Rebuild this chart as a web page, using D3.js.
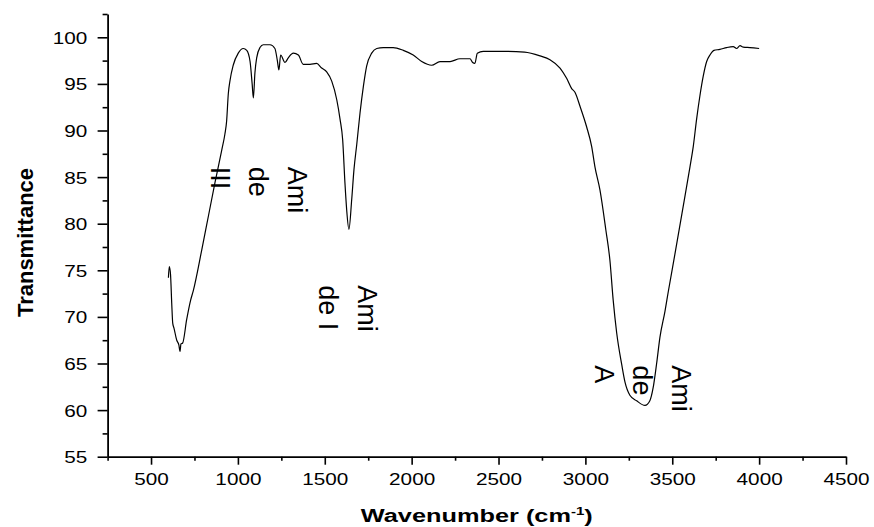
<!DOCTYPE html>
<html>
<head>
<meta charset="utf-8">
<script src="https://cdn.jsdelivr.net/npm/d3@7"></script>
<style>
  body { margin: 0; background: #fff; }
  text { font-family: "Liberation Sans", Arial, sans-serif; fill: #000; }
</style>
</head>
<body>
<svg id="chart" width="874" height="527"></svg>
<script>
// wavenumber (cm-1)
var wavenumber = [600, 605, 612, 619, 625, 632, 648, 660, 667, 672, 682, 705, 728, 743, 792, 830, 868, 907, 925, 935,
    945, 954, 973, 1002, 1031, 1051, 1070, 1082, 1089, 1098, 1108, 1127, 1146, 1185, 1213, 1227, 1236, 1246, 1271, 1290,
    1319, 1348, 1376, 1415, 1453, 1482, 1511, 1540, 1569, 1588, 1603, 1616, 1626, 1639, 1655, 1668, 1684, 1703, 1722, 1741,
    1770, 1799, 1837, 1894, 1952, 2009, 2058, 2115, 2163, 2221, 2278, 2336, 2351, 2364, 2378, 2412, 2508, 2650, 2739, 2796,
    2854, 2892, 2921, 2940, 2969, 3007, 3036, 3055, 3084, 3118, 3141, 3160, 3180, 3209, 3228, 3256, 3295, 3343, 3371, 3390,
    3410, 3429, 3458, 3477, 3515, 3556, 3602, 3621, 3640, 3659, 3678, 3698, 3717, 3740, 3774, 3813, 3851, 3870, 3890, 3909,
    3947, 4000];
// transmittance at each wavenumber
var transmittance = [74.2, 75.4, 74.6, 71.5, 69.3, 68.8, 67.5, 67.0, 66.3, 67.1, 67.2, 69.7, 71.8, 72.8, 77.2, 80.8, 84.4, 87.9, 89.6, 91.0,
    94.0, 95.3, 97.0, 98.3, 98.8, 98.6, 97.4, 95.0, 93.5, 96.2, 97.8, 98.9, 99.2, 99.2, 98.8, 97.5, 96.5, 98.1, 97.3, 97.8,
    98.3, 98.1, 97.1, 97.1, 97.2, 96.7, 96.3, 95.3, 93.3, 91.2, 89.0, 84.4, 81.5, 79.4, 82.6, 85.8, 88.5, 91.9, 94.7, 96.9,
    98.3, 98.8, 98.9, 98.9, 98.6, 98.1, 97.4, 97.0, 97.4, 97.4, 97.7, 97.7, 97.3, 97.2, 98.3, 98.5, 98.5, 98.4, 98.0, 97.6,
    96.7, 95.6, 94.5, 94.1, 92.6, 90.4, 88.3, 86.1, 83.6, 79.3, 76.1, 71.8, 68.3, 64.9, 63.0, 61.6, 61.0, 60.5, 61.0, 62.4,
    65.0, 67.8, 70.6, 72.7, 76.7, 81.1, 86.1, 88.3, 91.2, 93.7, 95.8, 97.4, 98.1, 98.6, 98.7, 98.9, 99.0, 98.8, 99.1, 98.95,
    98.9, 98.8];

var xTicks = [500, 1000, 1500, 2000, 2500, 3000, 3500, 4000, 4500];
var yTicks = [55, 60, 65, 70, 75, 80, 85, 90, 95, 100];

// peak labels: text lines, first line placed at [wavenumber, transmittance]
var peakLines = [["Ami", "de", "III"], ["Ami", "de I"], ["Ami", "de", "A"]];
var peakWn = [1288, 1691, 3498];
var peakT = [86.1, 73.4, 64.8];

var svg = d3.select("#chart");
var plotLeft = 107.6, plotRight = 846, plotTop = 14, plotBottom = 456.7;
var sx = 1.22; // tick text is drawn a little wide in the original

var x = d3.scaleLinear().domain([250, 4500]).range([plotLeft, plotRight]);
var y = d3.scaleLinear().domain([55, 102.5]).range([plotBottom, plotTop]);

// x axis
var xAxis = svg.append("g")
    .attr("transform", "translate(0," + plotBottom + ")")
    .call(d3.axisBottom(x).tickValues(xTicks).tickSize(8).tickSizeOuter(0).tickFormat(d3.format("d")));
svg.append("g")
    .attr("transform", "translate(0," + plotBottom + ")")
    .call(d3.axisBottom(x).tickValues(d3.range(250, 4500, 500)).tickSize(4).tickSizeOuter(0).tickFormat(""))
    .select(".domain").remove();
xAxis.selectAll("text")
    .attr("y", 28.3)
    .attr("dy", null)
    .style("font-size", "17px")
    .attr("transform", "scale(" + sx + ",1)");

// y axis
var yAxis = svg.append("g")
    .attr("transform", "translate(" + plotLeft + ",0)")
    .call(d3.axisLeft(y).tickValues(yTicks).tickSize(10).tickSizeOuter(0));
svg.append("g")
    .attr("transform", "translate(" + plotLeft + ",0)")
    .call(d3.axisLeft(y).tickValues(d3.range(57.5, 103, 5)).tickSize(5).tickSizeOuter(0).tickFormat(""))
    .select(".domain").remove();
yAxis.selectAll("text")
    .attr("x", -20.3 / sx)
    .attr("dy", "6px")
    .style("font-size", "17px")
    .attr("transform", "scale(" + sx + ",1)");

svg.selectAll(".domain").attr("stroke-width", 1.8);
svg.selectAll(".tick line").attr("stroke-width", 1.6);

// spectrum
var points = wavenumber.map(function (w, i) { return [w, transmittance[i]]; });
var line = d3.line()
    .x(function (d) { return x(d[0]); })
    .y(function (d) { return y(d[1]); })
    .curve(d3.curveMonotoneX);
svg.append("path")
    .datum(points)
    .attr("d", line)
    .attr("fill", "none")
    .attr("stroke", "#000")
    .attr("stroke-width", 1.2);

// rotated peak labels, one text per line, wrapping right to left
for (let i = 0; i < peakLines.length; i++) {
    for (let j = 0; j < peakLines[i].length; j++) {
        svg.append("text")
            .attr("transform", "translate(" + (x(peakWn[i]) - j * 38.5) + "," + y(peakT[i]) + ") rotate(90)")
            .style("font-size", "27px")
            .text(peakLines[i][j]);
    }
}

// axis titles
var xTitle = svg.append("text")
    .attr("transform", "translate(" + (plotLeft + plotRight) / 2 + ",521.7) scale(1.37,1)")
    .attr("text-anchor", "middle")
    .style("font-size", "18.5px")
    .style("font-weight", "bold");
xTitle.append("tspan").text("Wavenumber (cm");
xTitle.append("tspan").attr("dy", "-7").style("font-size", "11px").text("-1");
xTitle.append("tspan").attr("dy", "7").text(")");

svg.append("text")
    .attr("transform", "translate(33,242.5) rotate(-90)")
    .attr("text-anchor", "middle")
    .style("font-size", "22px")
    .style("font-weight", "bold")
    .text("Transmittance");
</script>
</body>
</html>
